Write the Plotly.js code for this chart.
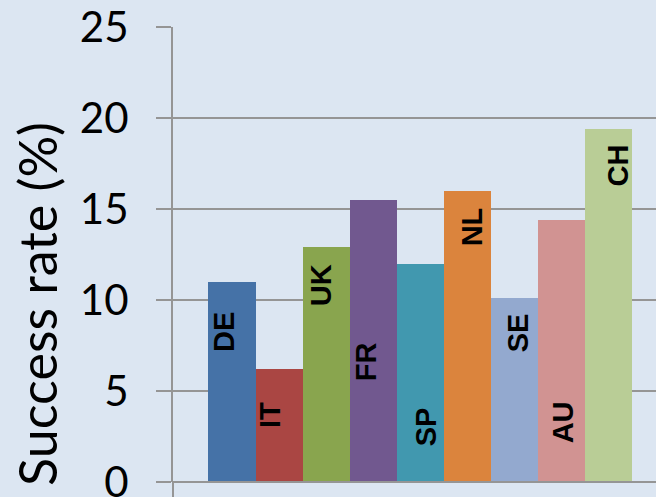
<!DOCTYPE html>
<html>
<head>
<meta charset="utf-8">
<script src="https://cdn.plot.ly/plotly-3.0.1.min.js"></script>
<style>html,body{margin:0;padding:0;background:#dce6f2;overflow:hidden;}#wrap{width:656px;height:497px;overflow:hidden;}#chart{width:656px;height:560px;}</style>
</head>
<body>
<div id="wrap"><div id="chart"></div></div>
<script>
// Data
const countries = ["DE", "IT", "UK", "FR", "SP", "NL", "SE", "AU", "CH"];
const successRate = [11.0, 6.2, 12.9, 15.5, 12.0, 16.0, 10.1, 14.4, 19.4];
const barColors = ["#4572a7", "#aa4643", "#89a54e", "#71588f", "#4198af", "#db843d", "#93a9cf", "#d19392", "#b9cd96"];
const yTicks = [0, 5, 10, 15, 20, 25];

// Label placement (layout, not data)
const labelY = [8.24, 3.68, 10.82, 6.59, 3.02, 14.01, 8.19, 3.30, 17.42];
const labelShift = [-8, -9, -5, -7, 6, 5, 4, 2, 9];

const grid = "#959595";
const H = 560;           // full figure height (window shows top 497 px)
const plotH = 455;       // plot area height
const bottomMargin = H - 27 - plotH;

const annotations = countries.map((c, i) => ({
  x: c, y: labelY[i], xref: "x", yref: "y",
  text: c, textangle: -90, showarrow: false,
  xshift: labelShift[i],
  font: {family: "Liberation Sans, Arial, sans-serif", size: 29, color: "#000000", weight: "bold"}
}));

annotations.push({
  xref: "paper", yref: "paper", x: -0.283, y: 0.392,
  text: "Success rate (%)", textangle: -90, showarrow: false,
  xanchor: "center", yanchor: "middle",
  font: {family: "Lato, sans-serif", size: 52, color: "#000000"}
});

const trace = {
  type: "bar",
  x: countries,
  y: successRate,
  marker: {color: barColors, line: {width: 0}},
  hoverinfo: "x+y"
};

const layout = {
  width: 656, height: H,
  margin: {l: 173, r: 0, t: 27, b: bottomMargin, pad: 0},
  paper_bgcolor: "#dce6f2",
  plot_bgcolor: "#dce6f2",
  bargap: 0,
  showlegend: false,
  xaxis: {
    type: "category",
    range: [-1.254, 9.01],
    showticklabels: false,
    ticks: "",
    showgrid: false,
    zeroline: false,
    showline: false,
    fixedrange: true
  },
  yaxis: {
    range: [0, 25],
    tickvals: yTicks,
    ticktext: yTicks.map(String),
    ticks: "outside",
    ticklen: 15,
    tickwidth: 2,
    tickcolor: grid,
    showline: true,
    linecolor: grid,
    linewidth: 2,
    showgrid: true,
    gridcolor: grid,
    gridwidth: 2,
    zeroline: false,
    ticklabelstandoff: 19,
    tickfont: {family: "Lato, sans-serif", size: 42, color: "#000000"},
    fixedrange: true
  },
  shapes: [
    {type: "line", xref: "paper", yref: "paper", x0: 0, x1: 0, y0: 0, y1: -0.06,
     line: {color: grid, width: 2}},
    {type: "line", xref: "paper", yref: "paper", x0: 0, x1: 1, y0: 0, y1: 0,
     line: {color: grid, width: 2}, layer: "above"}
  ],
  annotations: annotations
};

Plotly.newPlot("chart", [trace], layout, {displayModeBar: false, staticPlot: true});
</script>
</body>
</html>
